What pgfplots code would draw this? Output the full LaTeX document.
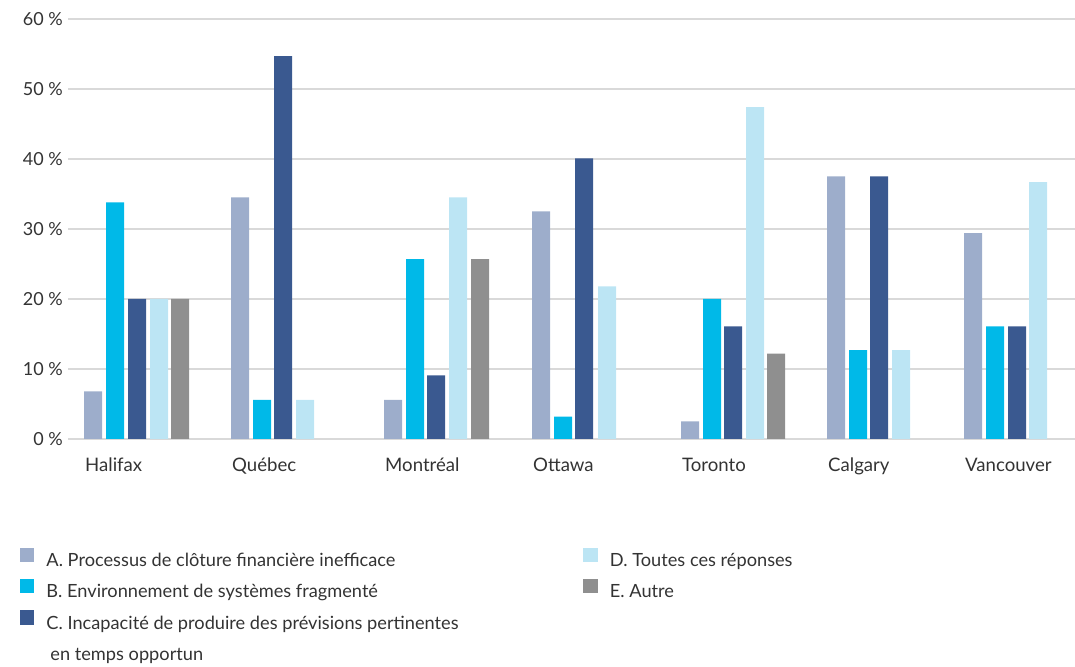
\documentclass[border=0pt]{standalone}
\usepackage{fontspec}
\setmainfont{Lato}
\usepackage{pgfplots}
\pgfplotsset{compat=1.18}

\definecolor{serA}{HTML}{9DADCB}
\definecolor{serB}{HTML}{00B9E8}
\definecolor{serC}{HTML}{3A5990}
\definecolor{serD}{HTML}{BCE5F4}
\definecolor{serE}{HTML}{8F8F8F}
\definecolor{txt}{HTML}{333333}
\definecolor{gridc}{HTML}{D9D9D9}

\pgfplotsset{
  sq legend/.style={legend image code/.code={\fill[##1] (0pt,-1.5pt) rectangle (14.5pt,13pt);}},
}
\newcommand\ls{\rule[-4pt]{0pt}{16pt}}

\begin{document}
\begin{tikzpicture}
\path[use as bounding box] (0pt,0pt) rectangle (1075pt,666pt);
\begin{axis}[
  at={(68pt,227pt)}, anchor=south west,
  scale only axis, width=1007pt, height=420pt,
  xmin=68, xmax=1075, ymin=0, ymax=60,
  axis line style={draw=none},
  tick style={draw=none},
  major tick length=0pt,
  ytick={0,10,...,60},
  yticklabels={0 \%,10 \%,20 \%,30 \%,40 \%,50 \%,60 \%},
  ymajorgrids, grid style={gridc, line width=2pt},
  xtick={84,231,384,532,681,827,964},
  xticklabels={Halifax,Québec,Montréal,Ottawa,Toronto,Calgary,Vancouver},
  xticklabel style={anchor=base west, inner sep=0pt, yshift=-33pt, xshift=1pt,
    font=\fontsize{18.6}{22}\selectfont, text=txt},
  yticklabel style={anchor=base east, inner sep=0pt, xshift=-5pt, yshift=-6.8pt,
    font=\fontsize{18}{22}\selectfont, text=txt},
  ybar, bar width=18pt, bar shift=0pt,
  clip=false,
  legend columns=4, transpose legend,
  legend cell align=left,
  legend style={
    draw=none, fill=none,
    at={(axis description cs:-0.0477,-0.2584)}, anchor=north west,
    inner sep=0pt, outer sep=0pt,
    font=\fontsize{18.2}{21}\selectfont, text=txt,
    row sep=11pt,
    nodes={inner sep=0pt},
    /tikz/every odd column/.append style={column sep=12pt},
    /tikz/every even column/.append style={column sep=0pt},
  },
]
% A. Processus de clôture financière inefficace
\addplot[fill=serA, draw=none, sq legend] coordinates {
  (93,6.8) (240,34.5) (393,5.6) (541,32.5) (690,2.5) (836,37.5) (973,29.4)};
% B. Environnement de systèmes fragmenté
\addplot[fill=serB, draw=none, sq legend] coordinates {
  (115,33.8) (262,5.6) (415,25.7) (563,3.2) (712,20) (858,12.7) (995,16.1)};
% C. Incapacité de produire des prévisions pertinentes en temps opportun
\addplot[fill=serC, draw=none, sq legend] coordinates {
  (137,20) (283,54.7) (436,9.1) (584,40.1) (733,16.1) (879,37.5) (1017,16.1)};
\addlegendimage{empty legend}
% D. Toutes ces réponses
\addplot[fill=serD, draw=none, sq legend] coordinates {
  (159,20) (305,5.6) (458,34.5) (607,21.8) (755,47.4) (901,12.7) (1038,36.7)};
% E. Autre
\addplot[fill=serE, draw=none, sq legend] coordinates {
  (180,20) (480,25.7) (776,12.2)};
\addlegendimage{empty legend}
\addlegendimage{empty legend}
\legend{
  \makebox[537pt][l]{\ls A. Processus de clôture financière inefficace},
  \makebox[537pt][l]{\ls B. Environnement de systèmes fragmenté},
  \makebox[537pt][l]{\ls C. Incapacité de produire des prévisions pertinentes},
  \makebox[537pt][l]{\rule[-4pt]{0pt}{23pt}\hspace{4pt}en temps opportun},
  \ls D. Toutes ces réponses,
  \ls E. Autre,
  \ls,
  \ls}
\end{axis}
\end{tikzpicture}
\end{document}
